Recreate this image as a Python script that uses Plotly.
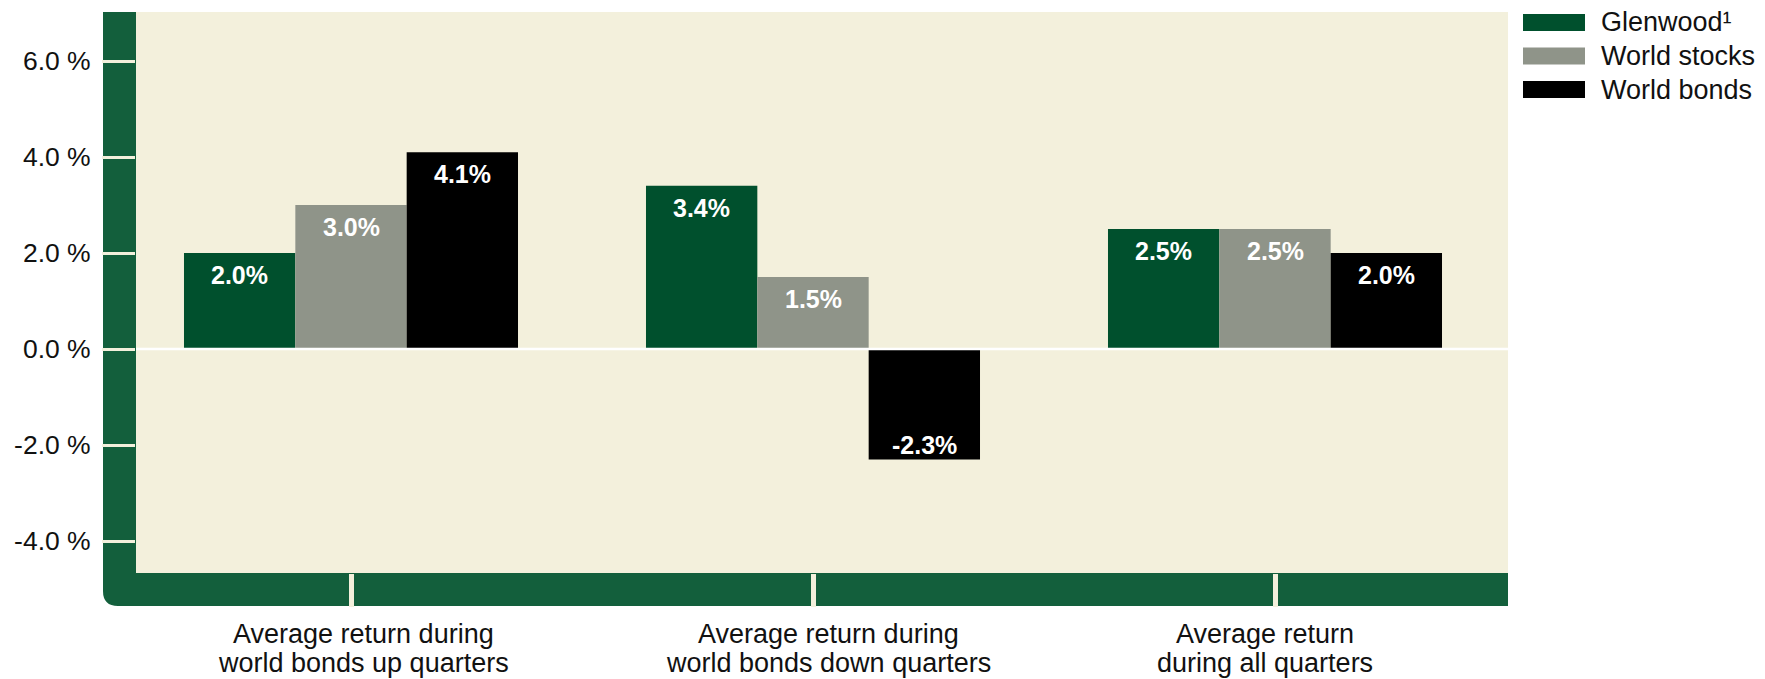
import plotly.graph_objects as go

# Chart data
categories = [
    "Average return during<br>world bonds up quarters",
    "Average return during<br>world bonds down quarters",
    "Average return<br>during all quarters",
]
series_names = ["Glenwood¹", "World stocks", "World bonds"]
glenwood = [2.0, 3.4, 2.5]
world_stocks = [3.0, 1.5, 2.5]
world_bonds = [4.1, -2.3, 2.0]
y_ticks = [-4, -2, 0, 2, 4, 6]
y_tick_labels = ["-4.0 %", "-2.0 %", "0.0 %", "2.0 %", "4.0 %", "6.0 %"]

series_values = [glenwood, world_stocks, world_bonds]
series_colors = ["#00502d", "#8f9489", "#000000"]

FRAME_GREEN = "#135f3c"
BEIGE = "#f3f0dc"
FONT = "Liberation Sans, Arial, sans-serif"
TEXT = "#111111"

W, H = 1765, 679
ML, MR, MT, MB = 136, 257, 12, 106
PW, PH = W - ML - MR, H - MT - MB

CAT_PX = 462          # pixels per category slot
FIRST_CAT_PX = 215    # first category centre, from the plot's left edge
ZERO_PX = 337         # y = 0, from the plot's top edge
PCT_PX = 48           # pixels per percentage point
BARGAP = 0.277
BAR_PX = CAT_PX * (1 - BARGAP) / len(series_names)
LABEL_XSHIFT = [12, 15, -10]  # nudges for the category captions


def px_x(x):
    return (x - ML) / PW


def px_y(y):
    return (H - MB - y) / PH


fig = go.Figure()
for name, vals, color in zip(series_names, series_values, series_colors):
    fig.add_trace(go.Bar(
        name=name,
        x=categories,
        y=vals,
        marker=dict(color=color, line=dict(width=0)),
        hoverinfo="skip",
    ))

annotations = []

# value labels inside the top (or bottom, when negative) end of each bar
for i, vals in enumerate(series_values):
    for cat, v in zip(categories, vals):
        annotations.append(dict(
            text=f"{v:.1f}%", xref="x", yref="y", x=cat, y=v,
            xanchor="center", yanchor="middle", showarrow=False,
            xshift=(i - (len(series_values) - 1) / 2) * BAR_PX,
            yshift=-22 if v >= 0 else 14,
            font=dict(family=FONT, size=25, color="#ffffff", weight="bold"),
        ))

# L-shaped green frame with rounded outer corner
pts = [(103, MT), (ML, MT), (ML, H - MB), (1508, H - MB), (1508, 606), (118, 606)]
path = "M " + " L ".join(f"{px_x(a):.5f},{px_y(b):.5f}" for a, b in pts)
path += f" Q {px_x(103):.5f},{px_y(606):.5f} {px_x(103):.5f},{px_y(591):.5f} Z"
shapes = [dict(type="path", path=path, xref="paper", yref="paper",
               fillcolor=FRAME_GREEN, line=dict(width=0), layer="below")]

# white zero line across the plot
shapes.append(dict(type="line", xref="paper", yref="y", x0=0, x1=1, y0=0, y1=0,
                   line=dict(color="#ffffff", width=2.5), layer="above"))

# legend
legend_rows = [22.5, 56, 89.5]
for name, color, yc in zip(series_names, series_colors, legend_rows):
    shapes.append(dict(type="rect", xref="paper", yref="paper",
                       x0=px_x(1523), x1=px_x(1585),
                       y0=px_y(yc + 8.5), y1=px_y(yc - 8.5),
                       fillcolor=color, line=dict(width=0)))
    annotations.append(dict(text=name, xref="paper", yref="paper",
                            x=px_x(1599), y=px_y(yc), xanchor="left", yanchor="middle",
                            showarrow=False,
                            font=dict(family=FONT, size=27, color=TEXT)))

# category captions under the frame
for cat, dx in zip(categories, LABEL_XSHIFT):
    for line, yc in zip(cat.split("<br>"), [634, 663]):
        annotations.append(dict(text=line, xref="x", yref="paper",
                                x=cat, y=px_y(yc), xanchor="center", yanchor="middle",
                                xshift=dx, showarrow=False,
                                font=dict(family=FONT, size=27, color=TEXT)))

fig.update_layout(
    width=W, height=H,
    margin=dict(l=ML, r=MR, t=MT, b=MB, pad=0),
    paper_bgcolor="#ffffff",
    plot_bgcolor=BEIGE,
    barmode="group",
    bargap=BARGAP,
    bargroupgap=0,
    showlegend=False,
    shapes=shapes,
    annotations=annotations,
    xaxis=dict(
        type="category",
        range=[-FIRST_CAT_PX / CAT_PX, (PW - FIRST_CAT_PX) / CAT_PX],
        showgrid=False, zeroline=False, showline=False,
        ticks="outside", ticklen=33, tickwidth=5, tickcolor=BEIGE,
        showticklabels=False,
    ),
    yaxis=dict(
        range=[-(PH - ZERO_PX) / PCT_PX, ZERO_PX / PCT_PX],
        tickvals=y_ticks, ticktext=y_tick_labels,
        showgrid=False, zeroline=False, showline=False,
        ticks="outside", ticklen=33, tickwidth=3, tickcolor=BEIGE,
        ticklabelstandoff=6,
        tickfont=dict(family=FONT, size=26.5, color=TEXT),
    ),
)

fig.write_html("out.html")
